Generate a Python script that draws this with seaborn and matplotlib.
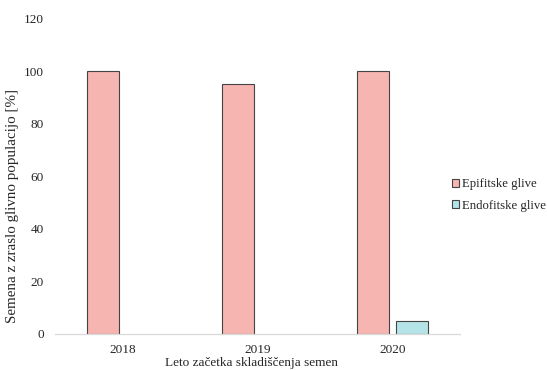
import matplotlib
matplotlib.use("Agg")
import matplotlib.pyplot as plt
import seaborn as sns
import pandas as pd

# Data
years = ["2018", "2019", "2020"]
series = ["Epifitske glive", "Endofitske glive"]
epifitske = [100, 95, 100]
endofitske = [0, 0, 5]
colors = ["#F6B5B1", "#B4E4E8"]
y_ticks = [0, 20, 40, 60, 80, 100, 120]

sns.set_style("white")
plt.rcParams["font.family"] = ["Liberation Serif", "DejaVu Serif"]

df = pd.DataFrame({
    "leto": years * 2,
    "skupina": [series[0]] * 3 + [series[1]] * 3,
    "vrednost": epifitske + endofitske,
})
# zero-height bars are not drawn
df_plot = df[df["vrednost"] > 0]

fig = plt.figure(figsize=(5.47, 3.71), dpi=100)
ax = fig.add_axes([55 / 547, 1 - 334 / 371, 405 / 547, (334 - 18.4) / 371])

sns.barplot(
    data=df_plot, x="leto", y="vrednost", hue="skupina",
    order=years, hue_order=series, palette=colors, saturation=1,
    width=0.58, gap=0.2, edgecolor="#444444", linewidth=0.8,
    ax=ax, legend=False,
)

ax.set_ylim(0, 120)
ax.set_xlim(-0.5, 2.5)
ax.set_yticks(y_ticks)
ax.tick_params(axis="y", length=0, pad=8, labelsize=9.5, colors="#262626")
ax.tick_params(axis="x", length=0, pad=7, labelsize=9.5, colors="#262626")

for side in ["top", "right", "left"]:
    ax.spines[side].set_visible(False)
ax.spines["bottom"].set_color("#D9D9D9")
ax.spines["bottom"].set_linewidth(0.9)

ax.set_ylabel("Semena z zraslo glivno populacijo [%]", fontsize=10.8, color="#262626")
ax.yaxis.set_label_coords(-0.088, 0.405)
ax.set_xlabel("Leto začetka skladiščenja semen", fontsize=9.5, color="#262626")
ax.xaxis.set_label_coords(0.486, -0.073)

handles = [plt.Rectangle((0, 0), 1, 1, facecolor=c, edgecolor="#444444", linewidth=0.8)
           for c in colors]
fig.legend(handles, series, loc="center left", bbox_to_anchor=(452 / 547, 1 - 195 / 371),
           frameon=False, fontsize=9.2, handlelength=0.55, handleheight=0.55,
           handletextpad=0.2, labelspacing=0.75, borderpad=0, borderaxespad=0,
           labelcolor="#262626")

fig.savefig("out.png", dpi=100)
